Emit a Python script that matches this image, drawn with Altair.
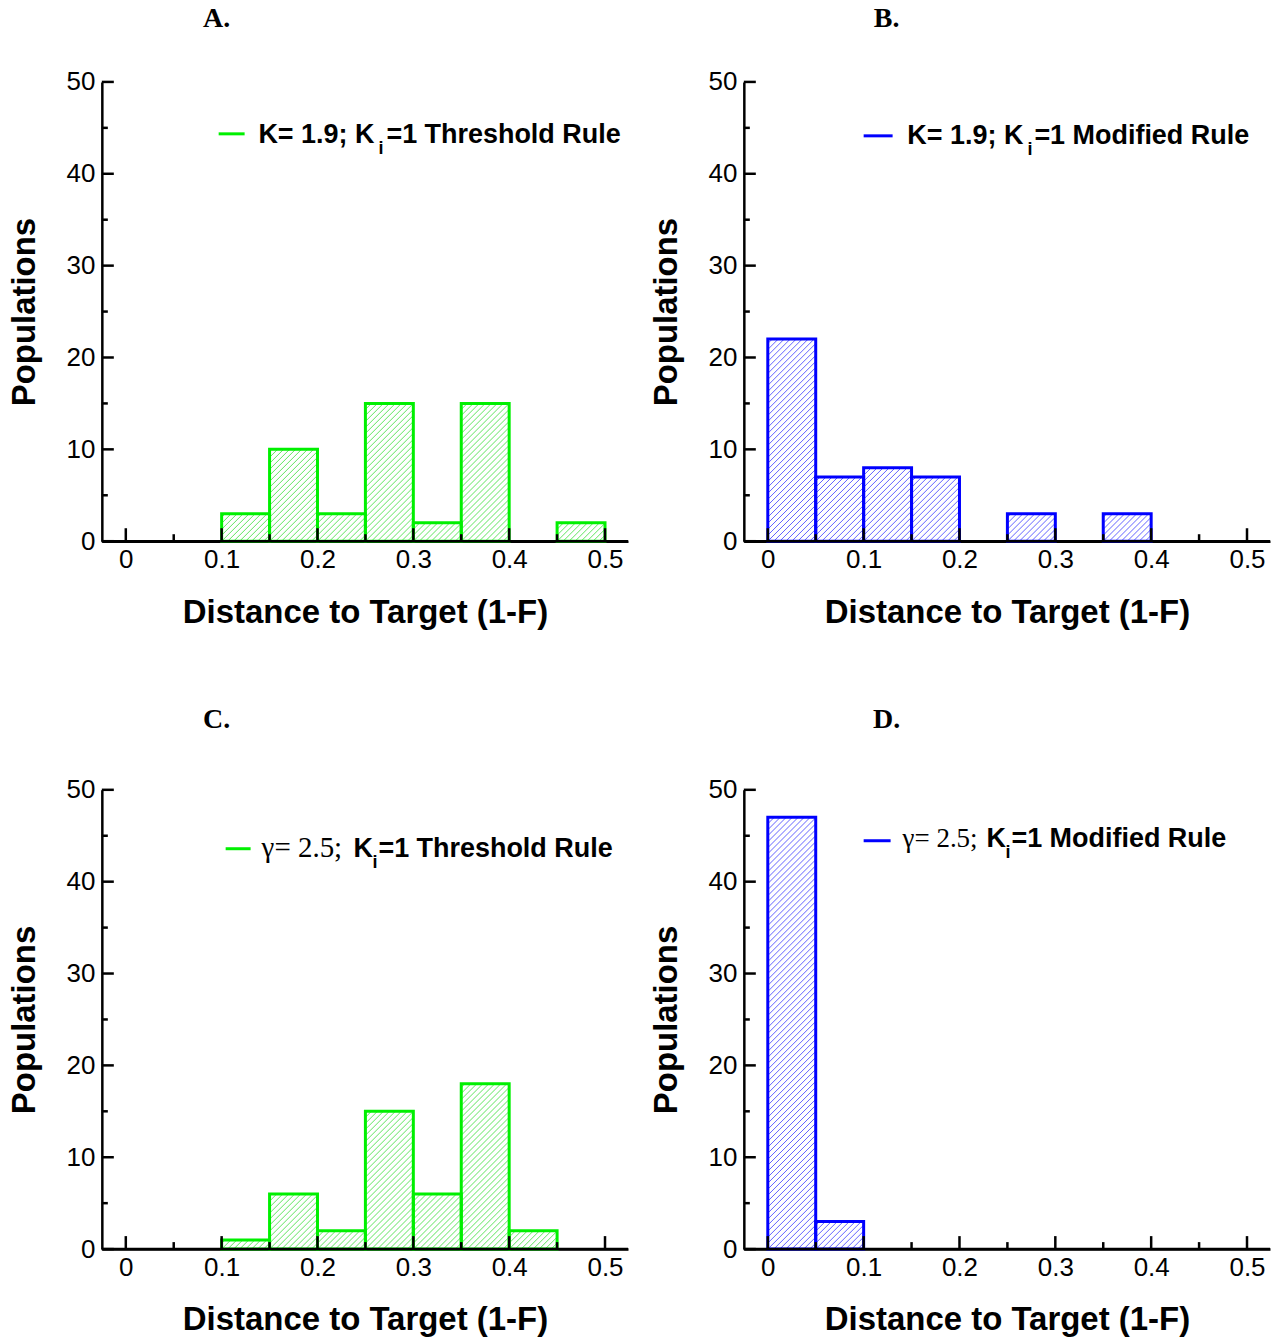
import math
import altair as alt
import pandas as pd

# ---------------- data ----------------
bin_starts = [0.0, 0.05, 0.10, 0.15, 0.20, 0.25, 0.30, 0.35, 0.40, 0.45]
bin_width = 0.05
counts_A = [0, 0, 3, 10, 3, 15, 2, 15, 0, 2]
counts_B = [22, 7, 8, 7, 0, 3, 0, 3, 0, 0]
counts_C = [0, 0, 1, 6, 2, 15, 6, 18, 2, 0]
counts_D = [47, 3, 0, 0, 0, 0, 0, 0, 0, 0]

panel_letters = ["A.", "B.", "C.", "D."]
legend_prefix = ["K= 1.9; K", "K= 1.9; K", "\u03b3= 2.5;", "\u03b3= 2.5;"]
legend_sub = "i"
legend_suffix = ["=1 Threshold Rule", "=1 Modified Rule", "=1 Threshold Rule", "=1 Modified Rule"]
x_major = [0, 0.1, 0.2, 0.3, 0.4, 0.5]
x_minor = [0.05, 0.15, 0.25, 0.35, 0.45]
y_major = [0, 10, 20, 30, 40, 50]
y_minor = [5, 15, 25, 35, 45]
x_title = "Distance to Target (1-F)"
y_title = "Populations"

# ---------------- style ----------------
W, H = 527, 460
XDOM = [-0.025, 0.524]
YDOM = [0, 50]
HATCH_STEP = 6.0
SANS = "Liberation Sans"
SERIF = "Liberation Serif"
GREEN = "#00f000"
BLUE = "#0000ff"
GREEN_HATCH = "#5ee45e"
BLUE_HATCH = "#6262ff"


def hatch_segments(counts):
    """45-degree hatch lines clipped to each bar, derived from the bar data."""
    def px(x):
        return (x - XDOM[0]) / (XDOM[1] - XDOM[0]) * W

    def ix(p):
        return XDOM[0] + p / W * (XDOM[1] - XDOM[0])

    rows = []
    for s, n in zip(bin_starts, counts):
        if n <= 0:
            continue
        a, b = px(s), px(s + bin_width)
        hp = n / YDOM[1] * H
        k0 = math.floor((a - hp) / HATCH_STEP)
        k1 = math.ceil(b / HATCH_STEP)
        for k in range(k0, k1 + 1):
            c = k * HATCH_STEP
            lo = max(0.0, a - c)
            hi = min(hp, b - c)
            if hi - lo > 0.5:
                rows.append({"hx": ix(lo + c), "hy": lo / H * YDOM[1],
                             "hx2": ix(hi + c), "hy2": hi / H * YDOM[1]})
    return pd.DataFrame(rows)


def txt(text, x, y, size, font, weight, align, baseline="alphabetic", color="black"):
    return alt.Chart(pd.DataFrame({"t": [text]})).mark_text(
        align=align, baseline=baseline, font=font, fontSize=size,
        fontWeight=weight, color=color
    ).encode(x=alt.value(x), y=alt.value(y), text="t:N")


def panel(i, counts, color, hatch_color, lay):
    xs = alt.Scale(domain=XDOM, nice=False, zero=False)
    ys = alt.Scale(domain=YDOM, nice=False, zero=False)

    xaxis = alt.Axis(values=x_major, format=".1~f", title=x_title, ticks=False, tickSize=0,
                     domainColor="black", domainWidth=2.5, grid=False,
                     labelFont=SANS, labelFontSize=26, labelColor="black", labelPadding=5,
                     labelFlush=False, labelOverlap=False,
                     titleFont=SANS, titleFontSize=33, titleFontWeight="bold", titleColor="black",
                     titleY=81, titleBaseline="alphabetic")
    yaxis = alt.Axis(values=y_major, format="d", title=y_title, ticks=False, tickSize=0,
                     domainColor="black", domainWidth=2.5, grid=False,
                     labelFont=SANS, labelFontSize=26, labelColor="black", labelPadding=7,
                     labelOverlap=False,
                     titleFont=SANS, titleFontSize=33, titleFontWeight="bold", titleColor="black",
                     titleX=-67, titleY=H / 2, titleBaseline="alphabetic", titleAngle=270)

    bars_df = pd.DataFrame({"x0": bin_starts, "n": counts})
    bars_df = bars_df[bars_df["n"] > 0].copy()
    bars_df["x1"] = bars_df["x0"] + bin_width

    hatch = alt.Chart(hatch_segments(counts)).mark_rule(strokeWidth=1).encode(
        x=alt.X("hx:Q", scale=xs, axis=xaxis), x2="hx2:Q",
        y=alt.Y("hy:Q", scale=ys, axis=yaxis), y2="hy2:Q",
        color=alt.value(hatch_color),
    )
    bars = alt.Chart(bars_df).mark_rect(fill="transparent", strokeWidth=3).encode(
        x=alt.X("x0:Q", scale=xs, axis=xaxis), x2="x1:Q",
        y=alt.Y("n:Q", scale=ys, axis=yaxis), y2=alt.datum(0),
        stroke=alt.value(color),
    )
    baseline = alt.Chart(pd.DataFrame({"k": [0]})).mark_rule(strokeWidth=2.5).encode(
        x=alt.value(0), x2=alt.value(W), y=alt.value(H), color=alt.value("black"))
    xmaj = alt.Chart(pd.DataFrame({"v": x_major})).mark_rule(strokeWidth=2.5).encode(
        x=alt.X("v:Q", scale=xs, axis=xaxis), y=alt.value(H), y2=alt.value(H - 13),
        color=alt.value("black"))
    xmin = alt.Chart(pd.DataFrame({"v": x_minor})).mark_rule(strokeWidth=2.5).encode(
        x=alt.X("v:Q", scale=xs, axis=xaxis), y=alt.value(H), y2=alt.value(H - 7),
        color=alt.value("black"))
    ymaj = alt.Chart(pd.DataFrame({"w": y_major})).mark_rule(strokeWidth=2.5).encode(
        y=alt.Y("w:Q", scale=ys, axis=yaxis), x=alt.value(0), x2=alt.value(12),
        color=alt.value("black"))
    ymin = alt.Chart(pd.DataFrame({"w": y_minor})).mark_rule(strokeWidth=2.5).encode(
        y=alt.Y("w:Q", scale=ys, axis=yaxis), x=alt.value(0), x2=alt.value(6),
        color=alt.value("black"))

    leg_line = alt.Chart(pd.DataFrame({"k": [0]})).mark_rule(strokeWidth=3).encode(
        x=alt.value(lay["line"][0]), x2=alt.value(lay["line"][1]), y=alt.value(lay["line_y"]),
        color=alt.value(color))

    layers = [hatch, bars, baseline, xmaj, xmin, ymaj, ymin, leg_line]
    base = lay["base"]
    if lay["serif"]:
        layers.append(txt(legend_prefix[i], lay["pre_x"], base, lay["serif_size"], SERIF,
                          "normal", "left"))
        layers.append(txt("K", lay["k_x"], base, 27, SANS, "bold", "left"))
    else:
        layers.append(txt(legend_prefix[i], lay["pre_x"], base, 27, SANS, "bold", "right"))
    layers.append(txt(legend_sub, lay["i_x"], base + 11, 18, SANS, "bold", "left"))
    layers.append(txt(legend_suffix[i], lay["suf_x"], base, 27, SANS, "bold", "left"))
    layers.append(txt(panel_letters[i], lay["title"][0], lay["title"][1], 28, SERIF, "bold",
                      "center", "middle"))
    return alt.layer(*layers).properties(width=W, height=H)


lay_A = dict(line=(117, 143), line_y=52, base=61, serif=False, pre_x=273, i_x=277, suf_x=285,
             title=(115, -63))
lay_B = dict(line=(120, 149), line_y=54, base=62, serif=False, pre_x=280, i_x=284, suf_x=291,
             title=(143, -63))
lay_C = dict(line=(124, 149), line_y=59, base=67, serif=True, serif_size=29, pre_x=160, k_x=252,
             i_x=271, suf_x=277, title=(115, -70))
lay_D = dict(line=(120, 147), line_y=51, base=57, serif=True, serif_size=27, pre_x=159, k_x=243,
             i_x=262, suf_x=268, title=(143, -70))

pA = panel(0, counts_A, GREEN, GREEN_HATCH, lay_A)
pB = panel(1, counts_B, BLUE, BLUE_HATCH, lay_B)
pC = panel(2, counts_C, GREEN, GREEN_HATCH, lay_C)
pD = panel(3, counts_D, BLUE, BLUE_HATCH, lay_D)

chart = alt.concat(pA, pB, pC, pD, columns=2, spacing={"row": 249, "column": 116},
                   bounds="flush").properties(
    padding={"left": 9, "top": 4, "right": 5, "bottom": 5},
    background="white",
).configure_view(strokeWidth=0)

chart.save("out.html", embed_options={"renderer": "svg", "actions": False})
